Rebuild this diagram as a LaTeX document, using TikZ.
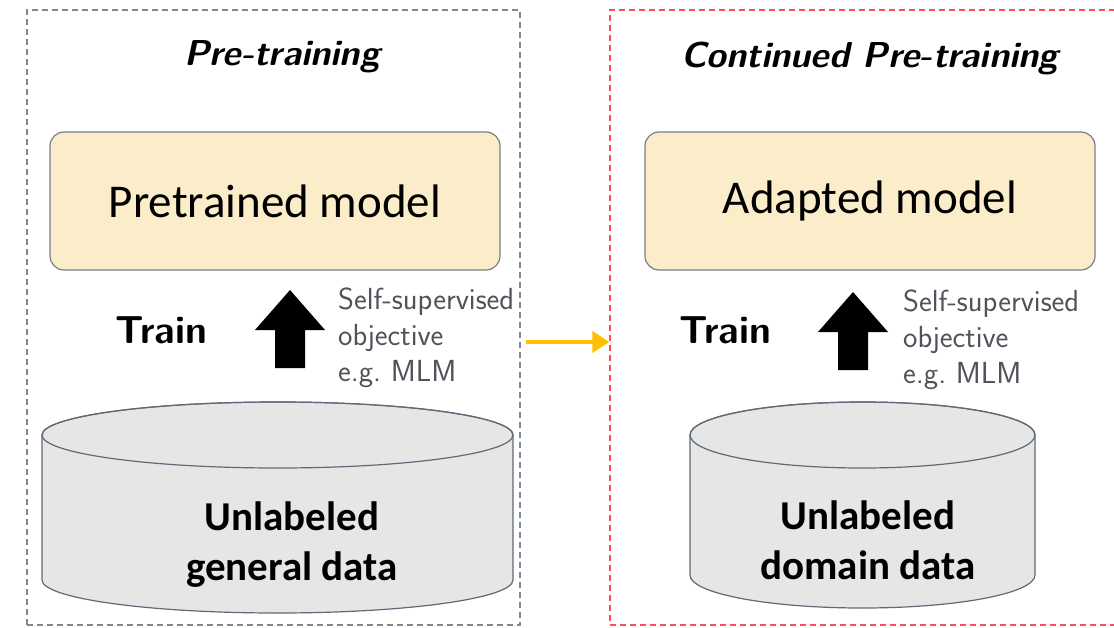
\documentclass[tikz,border=0pt]{standalone}
\usepackage{fontspec}
\newfontfamily\carlito{Carlito}
\usepackage{tikz}
\usetikzlibrary{arrows.meta}
\usetikzlibrary{calc}

\definecolor{framegray}{HTML}{7F8893}
\definecolor{framered}{HTML}{FF4B55}
\definecolor{modelfill}{HTML}{FBEDC9}
\definecolor{modelline}{HTML}{7A7F87}
\definecolor{cylfill}{HTML}{E6E6E6}
\definecolor{cylline}{HTML}{5E6A78}
\definecolor{notegray}{HTML}{4F545A}
\definecolor{linkorange}{HTML}{FFC000}

\begin{document}
\begin{tikzpicture}[x=1pt,y=1pt,
        phase/.style={draw, dash pattern=on 6pt off 4pt, line width=1.3pt,
            minimum height=615pt, inner sep=0pt},
        title/.style={font=\sffamily\bfseries\itshape\fontsize{36}{40}\selectfont},
        model/.style={draw=modelline, fill=modelfill, rounded corners=14pt,
            line width=1.2pt, minimum width=450pt, minimum height=138pt,
            font=\carlito\fontsize{47}{50}\selectfont},
        train/.style={font=\sffamily\bfseries\fontsize{39}{44}\selectfont},
        note/.style={text=notegray, align=left, anchor=west, inner sep=0pt,
            font=\sffamily\fontsize{30.5}{36}\selectfont},
        data/.style={align=center, inner sep=0pt,
            font=\carlito\bfseries\fontsize{41}{50}\selectfont},
        cyl/.style={fill=cylfill, draw=cylline, line width=1.2pt}
    ]
    \useasboundingbox (0,0) rectangle (1114,-627);

    % the two phases
    \node[phase, draw=framegray, minimum width=493pt] (pre) at (273.5,-317.5) {};
    \node[phase, draw=framered, minimum width=515pt] (cpt) at (867.5,-317.5) {};
    \draw[linkorange, line width=4.5pt, -{Triangle[length=17pt,width=21pt]}]
        ([shift={(5,-24.5)}]pre.east) -- ([yshift=-24.5pt]cpt.west);

    % pre-training
    \node[title] (pretitle) at (282,-57) {Pre-training};
    \node[model] (pretrained) at (275,-201) {Pretrained model};
    \node[train] (trainL) at (161,-330) {Train};
    \fill (290,-290) -- ++(35,-40) -- ++(-20,0) -- ++(0,-38) -- ++(-30,0)
        -- ++(0,38) -- ++(-20,0) -- cycle;
    \node[note] (objL) at (338,-338) {Self-supervised\\objective\\e.g.\ MLM};
    \draw[cyl] (42,-435) -- (42,-580)
        arc[start angle=180, end angle=360, x radius=235.5, y radius=33]
        -- (513,-435)
        arc[start angle=0, end angle=180, x radius=235.5, y radius=33] -- cycle;
    \draw[cylline, line width=1.2pt] (277.5,-435) ellipse[x radius=235.5, y radius=33];
    \node[data] (general) at (292,-545) {Unlabeled\\general data};

    % continued pre-training
    \node[title] (cpttitle) at (870,-58) {Continued Pre-training};
    \node[model] (adapted) at (870,-201) {Adapted model};
    \node[train] (trainR) at (725,-330) {Train};
    \fill (853,-292) -- ++(35,-40) -- ++(-20,0) -- ++(0,-38) -- ++(-30,0)
        -- ++(0,38) -- ++(-20,0) -- cycle;
    \node[note] (objR) at (903,-340) {Self-supervised\\objective\\e.g.\ MLM};
    \draw[cyl] (690,-435) -- (690,-575)
        arc[start angle=180, end angle=360, x radius=172.5, y radius=33]
        -- (1035,-435)
        arc[start angle=0, end angle=180, x radius=172.5, y radius=33] -- cycle;
    \draw[cylline, line width=1.2pt] (862.5,-435) ellipse[x radius=172.5, y radius=33];
    \node[data] (domain) at (868,-540) {Unlabeled\\domain data};
\end{tikzpicture}
\end{document}
